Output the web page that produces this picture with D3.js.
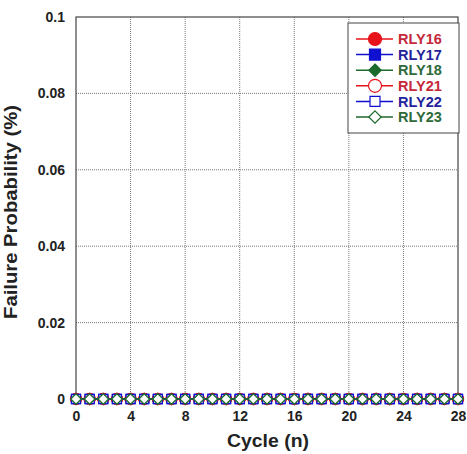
<!DOCTYPE html>
<html>
<head>
<meta charset="utf-8">
<script src="https://cdn.jsdelivr.net/npm/d3@7"></script>
<style>
  body { margin: 0; background: #fff; }
  text { font-family: Arial, "Liberation Sans", sans-serif; font-weight: bold; }
</style>
</head>
<body>
<div id="viz"></div>
<script>
// data: every relay stays at 0 % for all cycles
const cycles = d3.range(0, 29);
const seriesNames = ["RLY16", "RLY17", "RLY18", "RLY21", "RLY22", "RLY23"];
const seriesValues = {
  RLY16: [0,0,0,0,0,0,0,0,0,0,0,0,0,0,0,0,0,0,0,0,0,0,0,0,0,0,0,0,0],
  RLY17: [0,0,0,0,0,0,0,0,0,0,0,0,0,0,0,0,0,0,0,0,0,0,0,0,0,0,0,0,0],
  RLY18: [0,0,0,0,0,0,0,0,0,0,0,0,0,0,0,0,0,0,0,0,0,0,0,0,0,0,0,0,0],
  RLY21: [0,0,0,0,0,0,0,0,0,0,0,0,0,0,0,0,0,0,0,0,0,0,0,0,0,0,0,0,0],
  RLY22: [0,0,0,0,0,0,0,0,0,0,0,0,0,0,0,0,0,0,0,0,0,0,0,0,0,0,0,0,0],
  RLY23: [0,0,0,0,0,0,0,0,0,0,0,0,0,0,0,0,0,0,0,0,0,0,0,0,0,0,0,0,0]
};
const xTicks = [0, 4, 8, 12, 16, 20, 24, 28];
const yTicks = [0, 0.02, 0.04, 0.06, 0.08, 0.1];
const yTickLabels = ["0", "0.02", "0.04", "0.06", "0.08", "0.1"];

const styles = {
  RLY16: { color: "#e8121a", text: "#c4283a", shape: d3.symbolCircle, fill: true, size: 95, lsize: 133 },
  RLY17: { color: "#1010d0", text: "#24249a", shape: d3.symbolSquare, fill: true, size: 81, lsize: 121 },
  RLY18: { color: "#1c6a2c", text: "#2e6a3a", shape: d3.symbolDiamond2, fill: true, size: 72, lsize: 98 },
  RLY21: { color: "#e8121a", text: "#c4283a", shape: d3.symbolCircle, fill: false, size: 95, lsize: 133 },
  RLY22: { color: "#1010d0", text: "#24249a", shape: d3.symbolSquare, fill: false, size: 81, lsize: 100 },
  RLY23: { color: "#1c6a2c", text: "#2e6a3a", shape: d3.symbolDiamond2, fill: false, size: 72, lsize: 98 }
};

const margin = {top: 17, right: 9, bottom: 55, left: 76},
  W = 467, H = 454,
  width = W - margin.left - margin.right,
  height = H - margin.top - margin.bottom;

const svg = d3.select("#viz").append("svg")
  .attr("width", W).attr("height", H)
  .append("g")
  .attr("transform", "translate(" + margin.left + "," + margin.top + ")");

const x = d3.scaleLinear().domain([0, 28]).range([0, width]);
const y = d3.scaleLinear().domain([0, 0.1]).range([height, 0]);

// grid
svg.append("g").selectAll("line")
  .data(xTicks.slice(1, -1)).enter().append("line")
  .attr("x1", d => x(d)).attr("x2", d => x(d))
  .attr("y1", 0).attr("y2", height)
  .attr("stroke", "#777").attr("stroke-width", 1).attr("stroke-dasharray", "1,1");
svg.append("g").selectAll("line")
  .data(yTicks.slice(1, -1)).enter().append("line")
  .attr("y1", d => y(d)).attr("y2", d => y(d))
  .attr("x1", 0).attr("x2", width)
  .attr("stroke", "#777").attr("stroke-width", 1).attr("stroke-dasharray", "1,1");

// axes
const xAxis = svg.append("g")
  .attr("transform", "translate(0," + height + ")")
  .call(d3.axisBottom(x).tickValues(xTicks).tickSize(0).tickPadding(12).tickFormat(d3.format("d")));
const yAxis = svg.append("g")
  .call(d3.axisLeft(y).tickValues(yTicks).tickSize(0).tickPadding(11).tickFormat((d, i) => yTickLabels[i]));
[xAxis, yAxis].forEach(a => {
  a.select(".domain").remove();
  a.selectAll("text").attr("font-size", 14).attr("fill", "#222");
});

// frame
svg.append("rect")
  .attr("width", width).attr("height", height)
  .attr("fill", "none").attr("stroke", "#444").attr("stroke-width", 1.2);

// series
seriesNames.forEach(name => {
  const st = styles[name];
  const pts = cycles.map((c, i) => [c, seriesValues[name][i]]);
  svg.append("path")
    .datum(pts)
    .attr("fill", "none")
    .attr("stroke", st.color)
    .attr("stroke-width", 1.5)
    .attr("d", d3.line().x(d => x(d[0])).y(d => y(d[1])));
  svg.append("g").selectAll("path")
    .data(pts).enter().append("path")
    .attr("transform", d => "translate(" + x(d[0]) + "," + y(d[1]) + ")")
    .attr("d", d3.symbol().type(st.shape).size(st.size))
    .attr("fill", st.fill ? st.color : "#fff")
    .attr("stroke", st.color)
    .attr("stroke-width", 1.3);
});

// axis titles
svg.append("text")
  .attr("x", width / 2 + 1).attr("y", height + 48)
  .attr("text-anchor", "middle").attr("font-size", 18).attr("fill", "#222")
  .attr("textLength", 82).attr("lengthAdjust", "spacingAndGlyphs")
  .text("Cycle (n)");
svg.append("text")
  .attr("transform", "translate(" + (-59) + "," + (212 - margin.top) + ") rotate(-90)")
  .attr("text-anchor", "middle").attr("font-size", 18).attr("fill", "#222")
  .attr("textLength", 214).attr("lengthAdjust", "spacingAndGlyphs")
  .text("Failure Probability (%)");

// legend
const lg = svg.append("g").attr("transform", "translate(" + (348 - margin.left) + "," + (23 - margin.top) + ")");
lg.append("rect").attr("width", 111).attr("height", 110)
  .attr("fill", "#fff").attr("stroke", "#444").attr("stroke-width", 1);
seriesNames.forEach((name, i) => {
  const st = styles[name];
  const yy = 16 + i * 15.6;
  lg.append("line").attr("x1", 8).attr("x2", 45).attr("y1", yy).attr("y2", yy)
    .attr("stroke", st.color).attr("stroke-width", 1.5);
  lg.append("path")
    .attr("transform", "translate(27," + yy + ")")
    .attr("d", d3.symbol().type(st.shape).size(st.lsize))
    .attr("fill", st.fill ? st.color : "#fff")
    .attr("stroke", st.color).attr("stroke-width", 1.2);
  lg.append("text").attr("x", 50).attr("y", yy).attr("dy", "0.36em")
    .attr("font-size", 14.5).attr("fill", st.text).text(name);
});
</script>
</body>
</html>
